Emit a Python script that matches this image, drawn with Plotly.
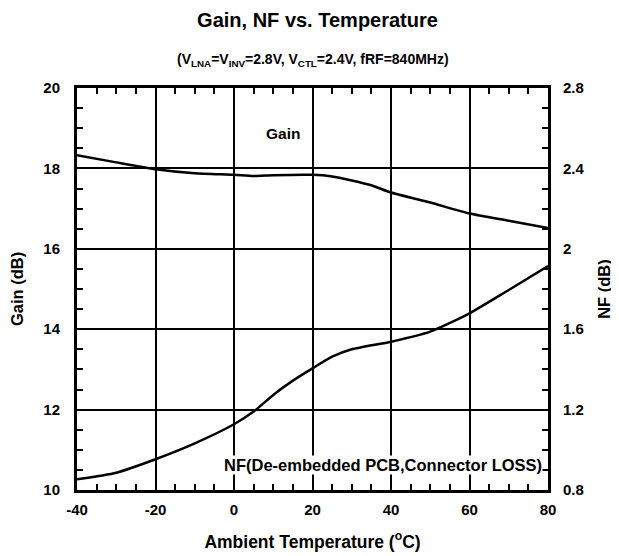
import plotly.graph_objects as go

temp = [-40, -30, -20, -10, 0, 5, 10, 20, 25, 30, 35, 40, 50, 60, 70, 80]
gain = [18.33, 18.15, 17.98, 17.88, 17.84, 17.81, 17.83, 17.84, 17.80, 17.70, 17.58, 17.40, 17.15, 16.88, 16.70, 16.52]

nf_temp = [-40, -30, -20, -10, 0, 5, 10, 15, 20, 25, 30, 40, 50, 60, 70, 80]
nf = [0.853, 0.886, 0.953, 1.032, 1.127, 1.19, 1.273, 1.344, 1.405, 1.463, 1.50, 1.538, 1.588, 1.679, 1.795, 1.914]

x_ticks = [-40, -20, 0, 20, 40, 60, 80]
x_tick_labels = ["-40", "-20", "0", "20", "40", "60", "80"]
gain_ticks = [10, 12, 14, 16, 18, 20]
nf_ticks = [0.8, 1.2, 1.6, 2.0, 2.4, 2.8]
nf_tick_labels = ["0.8", "1.2", "1.6", "2", "2.4", "2.8"]

FONT = "Liberation Sans, Arial, sans-serif"
tickfont = dict(family=FONT, size=15, color="black", weight="bold")

fig = go.Figure()
fig.add_trace(go.Scatter(x=temp, y=gain, mode="lines", line=dict(color="black", width=2.5, shape="spline", smoothing=0.6), yaxis="y", showlegend=False))
fig.add_trace(go.Scatter(x=nf_temp, y=nf, mode="lines", line=dict(color="black", width=2.5, shape="spline", smoothing=0.6), yaxis="y2", showlegend=False))

axis_common = dict(showline=True, linecolor="black", linewidth=3, showgrid=True, gridcolor="black", gridwidth=2,
                   ticks="inside", ticklen=6, tickwidth=2, tickcolor="black", tickfont=tickfont, zeroline=False,
                   automargin=False)

fig.update_layout(
    width=619, height=556,
    margin=dict(l=69, r=79, t=80, b=74),
    paper_bgcolor="white", plot_bgcolor="white",
    title=dict(text="<b>Gain, NF vs. Temperature</b>", x=0.5, xanchor="center", y=1 - 12/556, yanchor="middle",
               font=dict(family=FONT, size=20, color="black")),
    xaxis=dict(range=[-40, 80], tickvals=x_ticks, ticktext=x_tick_labels, mirror="allticks", ticklabelstandoff=4,
               minor=dict(dtick=5, ticks="inside", ticklen=6, tickwidth=2, tickcolor="black", showgrid=False),
               title=dict(text="<b>Ambient Temperature (<sup>o</sup>C)</b>", font=dict(family=FONT, size=17.5, color="black"), standoff=19),
               **axis_common),
    yaxis=dict(range=[10, 20], tickvals=gain_ticks, ticklabelstandoff=11,
               minor=dict(dtick=0.5, ticks="inside", ticklen=6, tickwidth=2, tickcolor="black", showgrid=False),
               title=dict(text="<b>Gain (dB)</b>", font=dict(family=FONT, size=16.5, color="black"), standoff=19),
               **axis_common),
    yaxis2=dict(range=[0.8, 2.8], tickvals=nf_ticks, ticktext=nf_tick_labels, overlaying="y", side="right", ticklabelstandoff=9,
                minor=dict(dtick=0.1, ticks="inside", ticklen=6, tickwidth=2, tickcolor="black", showgrid=False),
                title=dict(text="<b>NF (dB)</b>", font=dict(family=FONT, size=16.5, color="black"), standoff=15),
                **{**axis_common, "showgrid": False}),
    annotations=[
        dict(text="<b>(V<sub>LNA</sub>=V<sub>INV</sub>=2.8V, V<sub>CTL</sub>=2.4V, fRF=840MHz)</b>", xref="paper", yref="paper",
             x=0.5, y=1.0, yshift=28, showarrow=False, xanchor="center", yanchor="middle",
             font=dict(family=FONT, size=14, color="black")),
        dict(text="<b>Gain</b>", xref="x", yref="y", x=12.5, y=18.88, showarrow=False, xanchor="center", yanchor="middle",
             font=dict(family=FONT, size=15.5, color="black")),
        dict(text="<b>NF(De-embedded PCB,Connector LOSS)</b>", xref="x", yref="y", x=78.7, y=10.62, showarrow=False,
             xanchor="right", yanchor="middle", font=dict(family=FONT, size=16.5, color="black"), bgcolor="white",
             borderpad=0),
    ],
)

fig.write_html("out.html")
